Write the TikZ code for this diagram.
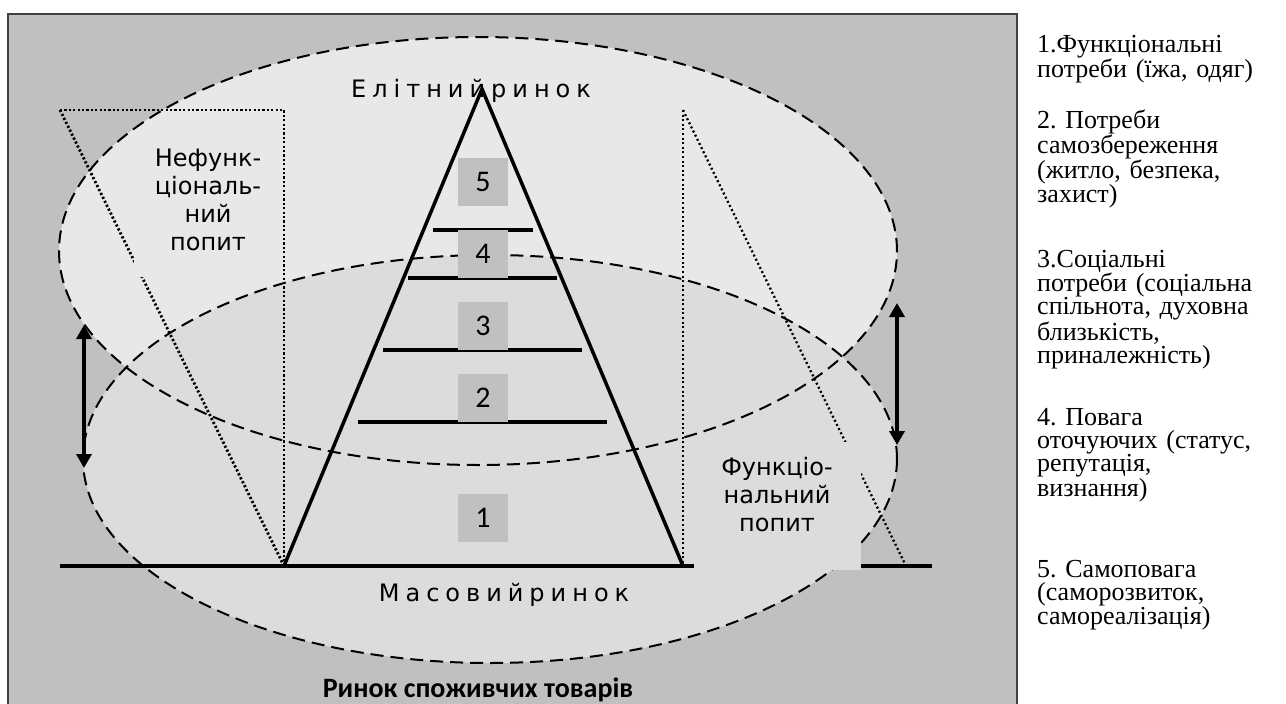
\documentclass[tikz,border=0pt]{standalone}
\usepackage{fontspec}
\setmainfont{Liberation Serif}
\newfontfamily\dejavu{DejaVu Sans}
\newfontfamily\carlito{Carlito}
\usetikzlibrary{arrows.meta}
\definecolor{bgray}{HTML}{C0C0C0}
\definecolor{upfill}{HTML}{E8E8E8}
\definecolor{lofill}{HTML}{DCDCDC}
\definecolor{framec}{HTML}{404040}
\newcommand{\lk}{\kern6pt}
\newcommand{\sidefont}{\fontsize{26}{23.3}\selectfont\frenchspacing}
\begin{document}
\lineskiplimit=-50pt
\begin{tikzpicture}[x=1pt,y=-1pt,
  dashedge/.style={draw=black,line width=2pt,dash pattern=on 13pt off 7pt},
  dotleft/.style={draw=black,line width=2.8pt,dash pattern=on 2.2pt off 2.2pt},
  dotright/.style={draw=black,line width=2.3pt,dash pattern=on 2pt off 2.6pt},
  thickline/.style={draw=black,line width=3.5pt},
  levelline/.style={draw=black,line width=3.2pt},
  numbox/.style={fill=bgray,minimum width=50pt,minimum height=48pt,inner sep=0pt,font=\carlito\fontsize{30}{30}\selectfont},
  maskbox/.style={inner sep=0pt,draw=none,anchor=north west},
  labeltext/.style={align=center,inner sep=0pt,font=\dejavu\fontsize{24}{28}\selectfont},
  sidetext/.style={anchor=base west,inner sep=0pt,text width=250pt,align=left,font=\sidefont},
  dblarrow/.style={line width=3.5pt,{Triangle[width=15pt,length=14pt]}-{Triangle[width=15pt,length=14pt]}}
]
\useasboundingbox (0,0) rectangle (1286,704);
\fill[white] (0,0) rectangle (1286,704);
\path[draw=framec,line width=2pt,fill=bgray] (8,14) rectangle (1017,720);

% ellipses
\fill[upfill] (478,251) ellipse [x radius=419pt,y radius=214pt];
\fill[lofill] (490,459) ellipse [x radius=407pt,y radius=204pt];
\draw[dashedge] (478,251) ellipse [x radius=419pt,y radius=214pt];
\draw[dashedge] (490,459) ellipse [x radius=407pt,y radius=204pt];

% coordinates
\coordinate (LT) at (60,110);
\coordinate (LV) at (284,110);
\coordinate (LB) at (284,566);
\coordinate (RT) at (683,110);
\coordinate (RB) at (683,566);
\coordinate (RD) at (906,566);
\coordinate (apex) at (482,89);
\coordinate (BL0) at (60,566);
\coordinate (BL1) at (932,566);

% dotted construction lines
\draw[dotleft] (LT) -- (LV) -- (LB);
\draw[dotleft] (LT) -- (LB);
\draw[dotright] (RT) -- (RB);
\draw[dotright] (RT) -- (RD);

% base line
\draw[thickline] (BL0) -- (BL1);

% level lines
\coordinate (a1) at (433,230); \coordinate (a2) at (533,230);
\coordinate (b1) at (408,278); \coordinate (b2) at (557,278);
\coordinate (c1) at (383,350); \coordinate (c2) at (582,350);
\coordinate (d1) at (358,422); \coordinate (d2) at (607,422);
\draw[levelline] (a1) -- (a2);
\draw[levelline] (b1) -- (b2);
\draw[levelline] (c1) -- (c2);
\draw[levelline] (d1) -- (d2);

% pyramid
\draw[thickline,line join=miter] (LB) -- (apex) -- (RB);

% number boxes
\node[numbox] (n5) at (483,182) {5};
\node[numbox] (n4) at (483,254) {4};
\node[numbox] (n3) at (483,326) {3};
\node[numbox] (n2) at (483,398) {2};
\node[numbox] (n1) at (483,518) {1};

% masks behind labels
\node[maskbox,fill=upfill,minimum width=146pt,minimum height=137pt] (maskL) at (134,140) {};
\node[maskbox,fill=lofill,minimum width=167pt,minimum height=128pt] (maskR) at (694,442) {};

% labels
\node[labeltext] (nefunk) at (208,200) {Нефунк-\\ціональ-\\ний\\попит};
\node[labeltext] (funk) at (777,495) {Функціо-\\нальний\\попит};

\node[anchor=base,inner sep=0pt,font=\dejavu\fontsize{24}{28}\selectfont] (elite) at (471,97)
  {Е\lk л\lk і\lk т\lk н\lk и\lk й\lk р\lk и\lk н\lk о\lk к};
\node[anchor=base,inner sep=0pt,font=\dejavu\fontsize{24}{28}\selectfont] (mass) at (504,601)
  {М\lk а\lk с\lk о\lk в\lk и\lk й\lk р\lk и\lk н\lk о\lk к};
\node[anchor=base,inner sep=0pt,font=\carlito\bfseries\fontsize{28}{30}\selectfont] (title) at (478,697)
  {Ринок споживчих товарів};

% arrows
\coordinate (la1) at (84,325); \coordinate (la2) at (84,468);
\coordinate (ra1) at (897,303); \coordinate (ra2) at (897,445);
\draw[dblarrow] (la1) -- (la2);
\draw[dblarrow] (ra1) -- (ra2);

% side legend
\node[sidetext] (s1) at (1037,52) {1.Функціональні\\потреби (їжа, одяг)};
\node[sidetext] (s2) at (1037,128) {2. Потреби\\самозбереження\\(житло, безпека,\\захист)};
\node[sidetext] (s3) at (1037,267) {3.Соціальні\\потреби (соціальна\\спільнота, духовна\\близькість,\\приналежність)};
\node[sidetext] (s4) at (1037,425) {4. Повага\\оточуючих (статус,\\репутація,\\визнання)};
\node[sidetext] (s5) at (1037,577) {5. Самоповага\\(саморозвиток,\\самореалізація)};
\end{tikzpicture}
\end{document}
